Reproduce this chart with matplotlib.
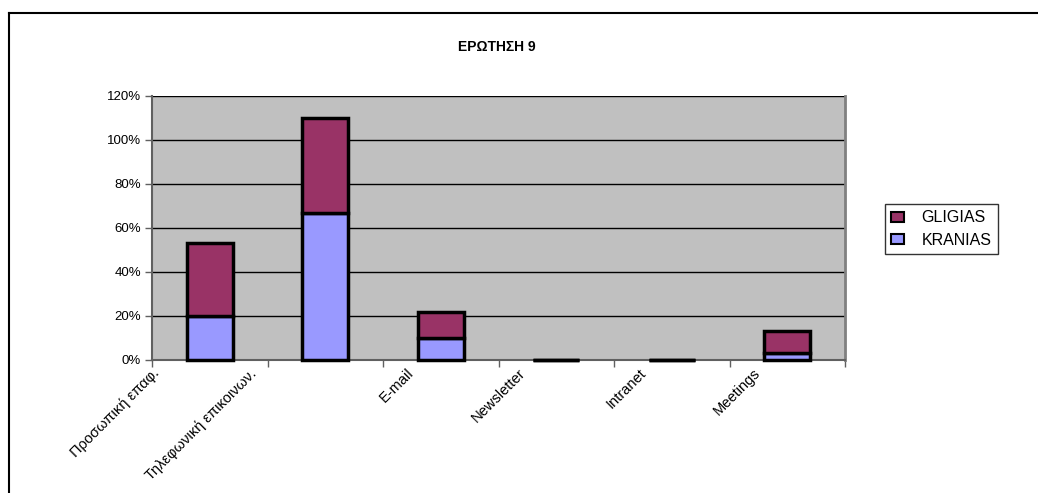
import numpy as np
import matplotlib.pyplot as plt
import matplotlib.transforms as mtransforms
from matplotlib.lines import Line2D

plt.rcParams['font.family'] = ['Liberation Sans', 'DejaVu Sans']

categories = ['Προσωπική επαφ.', 'Τηλεφωνική επικοινων.', 'E-mail',
              'Newsletter', 'Intranet', 'Meetings']
kranias = [20, 67, 10, 0, 0, 3]
gligias = [33, 43, 12, 0, 0, 10]

fig = plt.figure(figsize=(10.38, 4.93), dpi=100)
ax = fig.add_axes([152/1038, 133/493, 693/1038, 264/493])

x = np.arange(len(categories))
b1 = ax.bar(x, kranias, width=0.4, color='#9999FF', edgecolor='black',
            linewidth=2.5, label='KRANIAS', zorder=3)
b2 = ax.bar(x, gligias, width=0.4, bottom=kranias, color='#993366',
            edgecolor='black', linewidth=2.5, label='GLIGIAS', zorder=3)
for p in list(b1) + list(b2):
    p.set_clip_on(False)

ax.set_facecolor('#C0C0C0')
ax.set_xlim(-0.5, len(categories) - 0.5)
ax.set_ylim(0, 120)
ax.set_yticks(range(0, 121, 20))
ax.set_yticklabels([f'{v}%' for v in range(0, 121, 20)], fontsize=9.5)
ax.yaxis.grid(True, color='black', linewidth=1, zorder=1)

# ticks between categories, labels drawn separately
ax.set_xticks(np.arange(len(categories) + 1) - 0.5)
ax.set_xticklabels([])
ax.tick_params(axis='x', length=5, color='#606060', width=1)
ax.tick_params(axis='y', length=5, color='#606060', width=1, pad=3)

shifts = [-58, -76, -34, -38, -33, -34]
base = mtransforms.blended_transform_factory(ax.transData, ax.transAxes)
for xi, name, dx in zip(x, categories, shifts):
    tr = base + mtransforms.ScaledTranslation(dx/100, -6/100, fig.dpi_scale_trans)
    ax.text(xi, 0, name, transform=tr, rotation=45, ha='right', va='top',
            rotation_mode='anchor', fontsize=10.5)

ax.spines['top'].set_visible(False)
ax.spines['right'].set_color('#808080')
ax.spines['right'].set_linewidth(2)
for side in ['left', 'bottom']:
    ax.spines[side].set_color('#606060')
    ax.spines[side].set_linewidth(1.5)

fig.text(497/1038, 1 - 47/493, 'ΕΡΩΤΗΣΗ 9', ha='center', va='center',
         fontsize=10, fontweight='bold')

handles, labels = ax.get_legend_handles_labels()
leg = fig.legend(handles[::-1], labels[::-1], loc='upper left',
                 bbox_to_anchor=(885/1038, 1 - 204/493), fontsize=11.5,
                 frameon=True, fancybox=False, edgecolor='black',
                 handlelength=0.8, handleheight=0.55, borderaxespad=0,
                 borderpad=0.4, labelspacing=0.45, handletextpad=1.1)
leg.get_frame().set_linewidth(1)
for h in leg.legend_handles:
    h.set_linewidth(1.5)

# frame around the chart, left and top edges only
fig.add_artist(Line2D([9/1038, 9/1038], [0, 1 - 13/493], color='black',
                      linewidth=1.5, transform=fig.transFigure))
fig.add_artist(Line2D([9/1038, 1], [1 - 13/493, 1 - 13/493], color='black',
                      linewidth=1.5, transform=fig.transFigure))

fig.savefig('out.png', dpi=100)
